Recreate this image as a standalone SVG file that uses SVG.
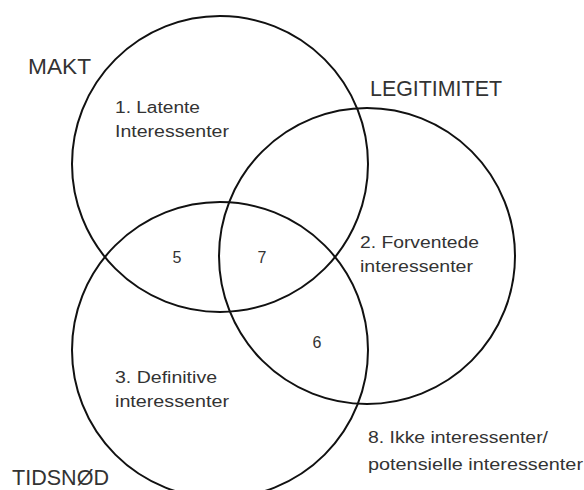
<svg xmlns="http://www.w3.org/2000/svg" width="584" height="490" viewBox="0 0 584 490">
<style>
.c{fill:none;stroke:#111;stroke-width:2}
.t{font-family:"Liberation Sans",Arial,sans-serif;fill:#333}
.big{font-size:22px}
.lab{font-size:16px}
</style>
<rect width="584" height="490" fill="#fff"/>
<g id="makt">
<circle class="c" cx="220" cy="164" r="148"/>
<text class="t big" x="28" y="74" textLength="63" lengthAdjust="spacingAndGlyphs">MAKT</text>
</g>
<g id="legitimitet">
<circle class="c" cx="367" cy="256" r="148"/>
<text class="t big" x="370" y="96" textLength="132" lengthAdjust="spacingAndGlyphs">LEGITIMITET</text>
</g>
<g id="tidsnod">
<circle class="c" cx="220" cy="350" r="148"/>
<text class="t big" x="12" y="485" textLength="97" lengthAdjust="spacingAndGlyphs">TIDSNØD</text>
</g>
<g id="r1">
<text class="t lab" x="115" y="113" textLength="85" lengthAdjust="spacingAndGlyphs">1. Latente</text>
<text class="t lab" x="115" y="137" textLength="114" lengthAdjust="spacingAndGlyphs">Interessenter</text>
</g>
<g id="r2">
<text class="t lab" x="360" y="248" textLength="119" lengthAdjust="spacingAndGlyphs">2. Forventede</text>
<text class="t lab" x="360" y="272" textLength="113" lengthAdjust="spacingAndGlyphs">interessenter</text>
</g>
<g id="r3">
<text class="t lab" x="115" y="383" textLength="102" lengthAdjust="spacingAndGlyphs">3. Definitive</text>
<text class="t lab" x="115" y="407" textLength="114" lengthAdjust="spacingAndGlyphs">interessenter</text>
</g>
<g id="r5"><text class="t lab" x="177" y="263" text-anchor="middle">5</text></g>
<g id="r7"><text class="t lab" x="262" y="263" text-anchor="middle">7</text></g>
<g id="r6"><text class="t lab" x="317" y="348" text-anchor="middle">6</text></g>
<g id="r8">
<text class="t lab" x="368" y="443" textLength="180" lengthAdjust="spacingAndGlyphs">8. Ikke interessenter/</text>
<text class="t lab" x="368" y="470" textLength="215" lengthAdjust="spacingAndGlyphs">potensielle interessenter</text>
</g>
<g id="connectors"></g>
</svg>
